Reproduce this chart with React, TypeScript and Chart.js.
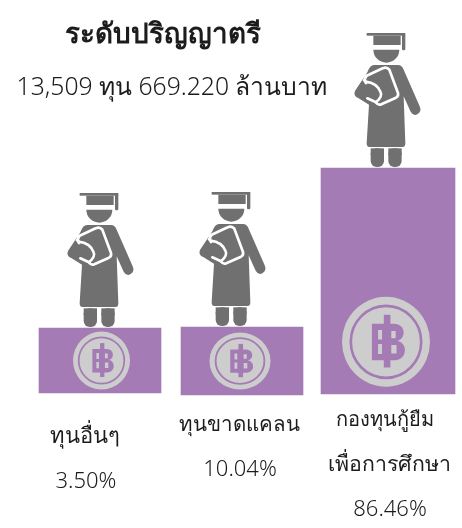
import React, { useEffect, useRef } from "react";
import { Chart, registerables } from "chart.js";

Chart.register(...registerables);

const categories = ["ทุนอื่นๆ", "ทุนขาดแคลน", "กองทุนกู้ยืมเพื่อการศึกษา"];
const shares = ["3.50%", "10.04%", "86.46%"];
const barBase = [1, -1, 0];
const barTop = [66, 67, 226];
const slots = [100, 242, 388];
const title = "ระดับปริญญาตรี";
const subtitle = "13,509 ทุน 669.220 ล้านบาท";

const PURPLE = "#A47BB5";
const COIN = "#CDCDCD";
const PERSON = "#707070";
const INK = "#1c1c1c";
const FONT = "'Noto Sans', sans-serif";

const barWidths = [122, 122, 134];
const personShift = [0, -10, -1];
const coinBoxes = [
  { dx: 1.5, cy: 0.5, rx: 28.5, ry: 29 },
  { dx: -2, cy: 0.5, rx: 30.5, ry: 28.5 },
  { dx: -2, cy: 0.231, rx: 44, ry: 45 },
];
const labelLayout = [
  [{ t: categories[0], x: 85, y: 443, s: 22 }, { t: shares[0], x: 86, y: 488, s: 22 }],
  [{ t: categories[1], x: 239, y: 431, s: 20.5 }, { t: shares[1], x: 240, y: 476, s: 22 }],
  [
    { t: "กองทุนกู้ยืม", x: 385, y: 426, s: 20 },
    { t: "เพื่อการศึกษา", x: 389, y: 471, s: 21.3 },
    { t: shares[2], x: 390, y: 516, s: 22 },
  ],
];

function roundRect(ctx: CanvasRenderingContext2D, x: number, y: number, w: number, h: number, r: number) {
  ctx.beginPath();
  ctx.roundRect(x, y, w, h, r);
  ctx.fill();
}

// Figure is described in a local 3x box whose origin is the top-left of the figure.
function drawPerson(ctx: CanvasRenderingContext2D, cx: number, bottom: number) {
  ctx.save();
  ctx.translate(cx - 33, bottom - 134);
  ctx.scale(1 / 3, 1 / 3);
  ctx.fillStyle = PERSON;
  // cap
  ctx.fillRect(38, 0, 116, 8);
  ctx.beginPath();
  ctx.moveTo(58, 8);
  ctx.lineTo(140, 8);
  ctx.lineTo(140, 36);
  ctx.lineTo(58, 36);
  ctx.closePath();
  ctx.fill();
  roundRect(ctx, 144, 4, 10, 48, 4);
  // head
  ctx.beginPath();
  ctx.moveTo(58, 50);
  ctx.lineTo(136, 50);
  ctx.arc(97, 50, 39, 0, Math.PI);
  ctx.closePath();
  ctx.fill();
  // gown
  ctx.beginPath();
  ctx.moveTo(60, 96);
  ctx.lineTo(132, 96);
  ctx.quadraticCurveTo(143, 96, 148, 108);
  ctx.lineTo(197, 220);
  ctx.quadraticCurveTo(204, 236, 190, 244);
  ctx.quadraticCurveTo(178, 250, 170, 236);
  ctx.lineTo(149, 190);
  ctx.lineTo(154, 330);
  ctx.quadraticCurveTo(154, 342, 146, 342);
  ctx.lineTo(46, 342);
  ctx.quadraticCurveTo(38, 342, 38, 330);
  ctx.lineTo(45, 215);
  ctx.lineTo(14, 196);
  ctx.quadraticCurveTo(-4, 190, 3, 174);
  ctx.lineTo(40, 118);
  ctx.quadraticCurveTo(48, 96, 60, 96);
  ctx.closePath();
  ctx.fill();
  // legs
  roundRect(ctx, 50, 346, 40, 56, 18);
  roundRect(ctx, 103, 346, 40, 56, 18);
  ctx.fillRect(50, 346, 40, 20);
  ctx.fillRect(103, 346, 40, 20);
  // book outline
  ctx.strokeStyle = "#ffffff";
  ctx.lineWidth = 8;
  ctx.lineJoin = "round";
  ctx.lineCap = "round";
  ctx.fillStyle = PERSON;
  ctx.beginPath();
  ctx.moveTo(34, 130);
  ctx.quadraticCurveTo(30, 140, 36, 150);
  ctx.moveTo(30, 142);
  ctx.lineTo(38, 128);
  ctx.lineTo(86, 106);
  ctx.quadraticCurveTo(98, 100, 106, 110);
  ctx.lineTo(132, 180);
  ctx.quadraticCurveTo(134, 190, 126, 194);
  ctx.lineTo(82, 214);
  ctx.quadraticCurveTo(72, 218, 66, 208);
  ctx.lineTo(40, 196);
  ctx.stroke();
  ctx.beginPath();
  ctx.moveTo(34, 146);
  ctx.quadraticCurveTo(70, 150, 80, 178);
  ctx.quadraticCurveTo(86, 190, 66, 208);
  ctx.stroke();
  ctx.restore();
}

function drawCoin(ctx: CanvasRenderingContext2D, cx: number, cy: number, rx: number, ry: number) {
  ctx.save();
  ctx.translate(cx, cy);
  ctx.scale(rx, ry);
  ctx.fillStyle = COIN;
  ctx.beginPath();
  ctx.arc(0, 0, 1, 0, Math.PI * 2);
  ctx.fill();
  ctx.strokeStyle = PURPLE;
  ctx.lineWidth = 0.06;
  ctx.beginPath();
  ctx.arc(0, 0, 0.8, 0, Math.PI * 2);
  ctx.stroke();
  ctx.fillStyle = PURPLE;
  ctx.fillRect(-0.05, -0.6, 0.15, 1.17);
  ctx.beginPath();
  ctx.moveTo(-0.32, -0.4);
  ctx.lineTo(0.18, -0.4);
  ctx.bezierCurveTo(0.46, -0.4, 0.46, -0.06, 0.26, -0.02);
  ctx.bezierCurveTo(0.5, 0.02, 0.5, 0.41, 0.18, 0.41);
  ctx.lineTo(-0.32, 0.41);
  ctx.closePath();
  // holes
  ctx.rect(-0.18, -0.26, 0.09, 0.21);
  ctx.rect(-0.18, 0.05, 0.09, 0.22);
  ctx.rect(0.12, -0.24, 0.1, 0.16);
  ctx.rect(0.12, 0.07, 0.12, 0.19);
  ctx.fill("evenodd");
  ctx.restore();
}

const infographic = {
  id: "infographic",
  afterDatasetsDraw(chart: any) {
    const { ctx } = chart;
    categories.forEach((_, i) => {
      const bar = chart.getDatasetMeta(i).data[0];
      const box = coinBoxes[i];
      drawPerson(ctx, bar.x + personShift[i], bar.y - 1);
      drawCoin(ctx, bar.x + box.dx, bar.base + (bar.y - bar.base) * box.cy, box.rx, box.ry);
    });
    ctx.save();
    ctx.fillStyle = INK;
    ctx.textAlign = "center";
    ctx.textBaseline = "alphabetic";
    ctx.font = `bold 27.8px ${FONT}`;
    ctx.fillText(title, 163, 43);
    ctx.font = `300 24.7px ${FONT}`;
    ctx.fillText(subtitle, 172, 95);
    labelLayout.forEach((lines) =>
      lines.forEach((l) => {
        ctx.font = `300 ${l.s}px ${FONT}`;
        ctx.fillText(l.t, l.x, l.y);
      })
    );
    ctx.restore();
  },
};

export default function App() {
  const ref = useRef<HTMLCanvasElement>(null);
  useEffect(() => {
    const chart = new Chart(ref.current as HTMLCanvasElement, {
      type: "bar",
      data: {
        datasets: categories.map((label, i) => ({
          label,
          data: [{ x: slots[i], y: [barBase[i], barTop[i]] }],
          backgroundColor: PURPLE,
          borderWidth: 0,
          barThickness: barWidths[i],
        })),
      },
      options: {
        animation: false,
        responsive: false,
        layout: { padding: 0 },
        plugins: { legend: { display: false }, tooltip: { enabled: false }, title: { display: false } },
        scales: {
          x: { type: "linear", stacked: true, offset: false, min: 0, max: 462, display: false },
          y: { min: -134, max: 394, display: false },
        },
      },
      plugins: [infographic],
    } as any);
    return () => chart.destroy();
  }, []);
  return (
    <div style={{ position: "absolute", left: 0, top: 0, width: 462, height: 528, background: "#fff" }}>
      <canvas ref={ref} width={462} height={528} style={{ display: "block" }} />
    </div>
  );
}
